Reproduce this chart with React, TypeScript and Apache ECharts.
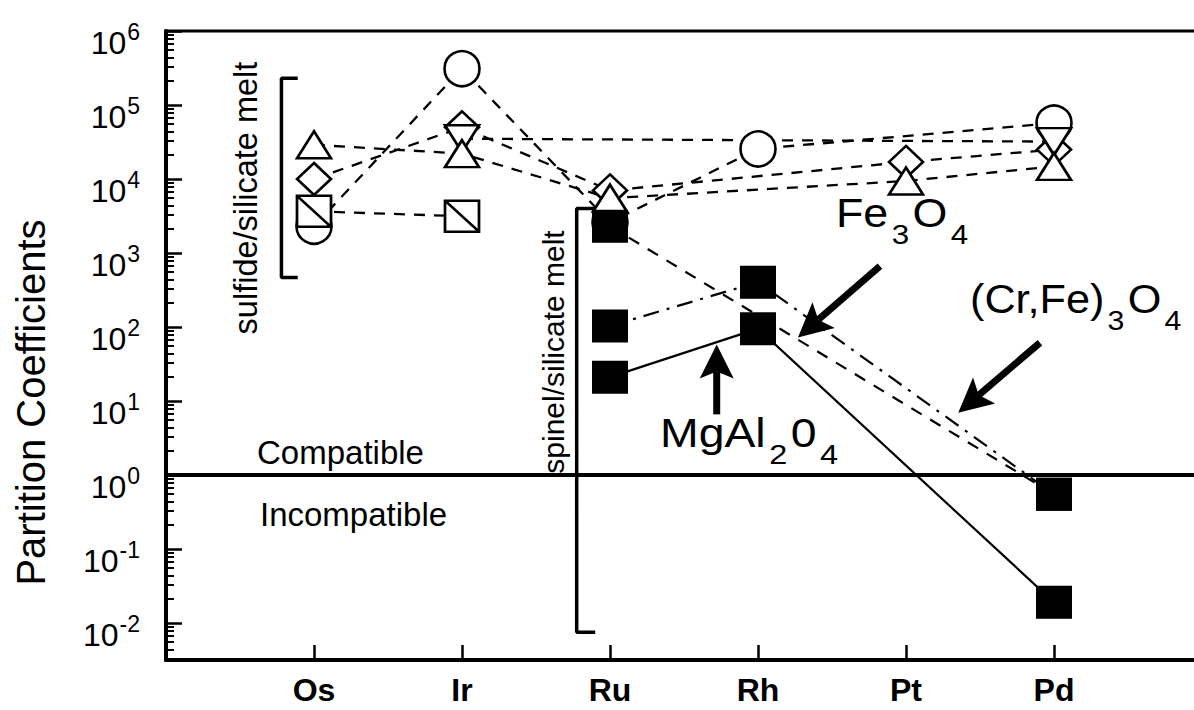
import React, { useEffect, useRef } from "react";
import * as echarts from "echarts";

const FONT = "Liberation Sans";

const elements = ["Os", "Ir", "Ru", "Rh", "Pt", "Pd"];
const yTickExponents = [-2, -1, 0, 1, 2, 3, 4, 5, 6];

// sulfide/silicate melt partition coefficients (open symbols), order Os Ir Ru Rh Pt Pd
const sulfCircle = [2300, 310000, 2600, 25500, null, 57000];
const sulfDiamond = [10000, 50000, 7000, null, 17000, 25000];
const sulfTriDown = [null, 35000, null, null, null, 32000];
const sulfTriUp = [29000, 22000, 5500, null, 9400, 14800];
const sulfSquare = [3660, 3140, null, null, null, null];

// spinel/silicate melt partition coefficients (filled squares)
const spinelFe3O4 = [null, null, 2300, null, null, 0.55];
const spinelCrFe3O4 = [null, null, 103, 404, null, 0.55];
const spinelMgAl2O4 = [null, null, 21, 95, null, 0.019];

// range brackets: [x of bar, x of cap end, top value, bottom value]
const sulfBracket = [0.78, 0.89, 230000, 467];
const spinelBracket = [2.775, 2.9, 4000, 0.0075];

// arrows in data space: [start, tip]
const arrowFe3O4 = [[4.824, 664], [4.27, 72.3]];
const arrowMgAl2O4 = [[3.721, 6.6], [3.721, 58.2]];
const arrowCrFe3O4 = [[5.905, 61.3], [5.353, 6.96]];

const toPoints = (vals: (number | null)[]) =>
  vals
    .map((v, i) => (v == null ? null : [i + 1, v]))
    .filter((p) => p !== null) as number[][];

const bracketPoints = (b: number[]) => [
  [b[1], b[2]],
  [b[0], b[2]],
  [b[0], b[3]],
  [b[1], b[3]],
];

const openStyle = { color: "#fff", borderColor: "#000", borderWidth: 2.6 };
const dashed = { color: "#000", width: 2.3, type: [11, 9] as any };

function sulfSeries(name: string, vals: (number | null)[], symbol: string, size: any, rotate = 0) {
  return {
    name,
    type: "line",
    data: toPoints(vals),
    symbol,
    symbolSize: size,
    symbolRotate: rotate,
    showSymbol: true,
    itemStyle: openStyle,
    lineStyle: dashed,
    z: 3,
  };
}

function spinelSeries(name: string, vals: (number | null)[], lineType: any) {
  return {
    name,
    type: "line",
    data: toPoints(vals),
    symbol: "rect",
    symbolSize: [36, 33],
    showSymbol: true,
    itemStyle: { color: "#000" },
    lineStyle: { color: "#000", width: 2.2, type: lineType },
    z: 4,
  };
}

export default function App() {
  const ref = useRef<HTMLDivElement>(null);
  useEffect(() => {
    if (!ref.current) return;
    const chart = echarts.init(ref.current, undefined, { renderer: "svg" });
    const option: any = {
      animation: false,
      backgroundColor: "#fff",
      grid: {
        left: 166,
        top: 31,
        right: -8,
        height: 629,
        outerBoundsMode: "none",
        containLabel: false,
        show: true,
        borderColor: "#000",
        borderWidth: 3,
        backgroundColor: "transparent",
      },
      xAxis: {
        type: "value",
        min: 0,
        max: 7,
        interval: 1,
        axisLine: { show: true, onZero: false, lineStyle: { color: "#000", width: 4 } },
        axisTick: { show: true, inside: true, length: 15, lineStyle: { color: "#000", width: 2.5 } },
        axisLabel: {
          formatter: (v: number) => elements[Math.round(v) - 1] ?? "",
          fontSize: 32,
          fontWeight: "bold",
          fontFamily: FONT,
          color: "#000",
          margin: 14,
        },
        splitLine: { show: false },
      },
      yAxis: {
        type: "log",
        logBase: 10,
        min: Math.pow(10, -2.5),
        max: 1e6,
        axisLine: { show: true, onZero: false, lineStyle: { color: "#000", width: 4 } },
        axisTick: { show: true, inside: true, length: 16, lineStyle: { color: "#000", width: 2.5 } },
        minorTick: { show: true, splitNumber: 8, length: 8, lineStyle: { color: "#000", width: 2 } },
        splitLine: { show: false },
        axisLabel: {
          margin: 26,
          formatter: (v: number) => {
            const l = Math.log10(v);
            const k = Math.round(l);
            if (Math.abs(l - k) > 1e-6 || !yTickExponents.includes(k)) return "";
            return `{b|10}{s|${k}}`;
          },
          rich: {
            b: { fontSize: 32, fontFamily: FONT, color: "#000", lineHeight: 32, padding: [12, 0, 12, 0], verticalAlign: "top" },
            s: { fontSize: 23, fontFamily: FONT, color: "#000", lineHeight: 23, padding: [5, 0, 0, 1], verticalAlign: "top" },
          },
        },
        name: "Partition Coefficients",
        nameLocation: "middle",
        nameGap: 115,
        nameTextStyle: { fontSize: 40, fontFamily: FONT, color: "#000", padding: [0, 114, 0, 0] },
      },
      series: [
        {
          name: "unity",
          type: "line",
          data: [],
          markLine: {
            silent: true,
            symbol: ["none", "none"],
            label: { show: false },
            lineStyle: { type: "solid", color: "#000", width: 4 },
            data: [{ yAxis: 1 }],
          },
        },
        {
          name: "sulfide bracket",
          type: "line",
          data: bracketPoints(sulfBracket),
          symbol: "none",
          lineStyle: { color: "#000", width: 3.5, type: "solid" },
          z: 2,
        },
        {
          name: "spinel bracket",
          type: "line",
          data: bracketPoints(spinelBracket),
          symbol: "none",
          lineStyle: { color: "#000", width: 3.5, type: "solid" },
          z: 2,
        },
        sulfSeries("circle", sulfCircle, "circle", 35),
        sulfSeries("diamond", sulfDiamond, "diamond", [34, 32]),
        sulfSeries("triangle down", sulfTriDown, "triangle", [34, 27], 180),
        sulfSeries("triangle up", sulfTriUp, "triangle", [34, 27]),
        sulfSeries("square", sulfSquare, "path://M0 0H10V10H0ZM0 0L10 10", [34, 31]),
        spinelSeries("Fe3O4", spinelFe3O4, [12, 10]),
        spinelSeries("(Cr,Fe)3O4", spinelCrFe3O4, [16, 8, 3, 8]),
        spinelSeries("MgAl2O4", spinelMgAl2O4, "solid"),
      ],
    };
    chart.setOption(option);

    const toPx = (p: number[]) => chart.convertToPixel({ xAxisIndex: 0, yAxisIndex: 0 }, p) as number[];
    const arrow = (a: number[][]) => {
      const [sx, sy] = toPx(a[0]);
      const [tx, ty] = toPx(a[1]);
      const dx = tx - sx, dy = ty - sy;
      const L = Math.hypot(dx, dy);
      const ux = dx / L, uy = dy / L;
      const px = -uy, py = ux;
      const head = 34, half = 17, notch = 7;
      const bx = tx - ux * head, by = ty - uy * head;
      const nx = tx - ux * (head - notch), ny = ty - uy * (head - notch);
      return [
        { type: "line", silent: true, shape: { x1: sx, y1: sy, x2: nx, y2: ny }, style: { stroke: "#000", lineWidth: 7 } },
        {
          type: "polygon",
          silent: true,
          shape: { points: [[tx, ty], [bx + px * half, by + py * half], [nx, ny], [bx - px * half, by - py * half]] },
          style: { fill: "#000" },
        },
      ];
    };
    const chemRich = {
      a: { fontSize: 40, fontFamily: FONT, fill: "#000", lineHeight: 42, verticalAlign: "top" },
      s: { fontSize: 28, fontFamily: FONT, fill: "#000", lineHeight: 28, padding: [27, 3, 0, 3], verticalAlign: "top" },
    };
    const txt = (x: number, y: number, text: string, extra: any = {}) => ({
      type: "text",
      x,
      y,
      silent: true,
      ...extra.el,
      style: {
        text,
        fontSize: 33,
        fontFamily: FONT,
        fill: "#000",
        align: "left",
        textAlign: "left",
        verticalAlign: "middle",
        textVerticalAlign: "middle",
        ...extra.style,
      },
    });
    const chem = (x: number, y: number, text: string, sx = 1.12) =>
      txt(x, y, text, {
        el: { scaleX: sx },
        style: { rich: chemRich, verticalAlign: "top", textVerticalAlign: "top" },
      });
    chart.setOption({
      graphic: [
        ...arrow(arrowFe3O4),
        ...arrow(arrowMgAl2O4),
        ...arrow(arrowCrFe3O4),
        txt(257, 452, "Compatible"),
        txt(260, 514, "Incompatible"),
        chem(836, 193, "{a|Fe}{s|3}{a|O}{s|4}"),
        chem(660, 413, "{a|MgAl}{s|2}{a|0}{s|4}", 1.16),
        chem(970, 279, "{a|(Cr,Fe)}{s|3}{a|O}{s|4}", 1.08),
        txt(246, 198, "sulfide/silicate melt", {
          el: { rotation: Math.PI / 2 },
          style: { fontSize: 32.5, align: "center", textAlign: "center" },
        }),
        txt(553, 352, "spinel/silicate melt", {
          el: { rotation: Math.PI / 2 },
          style: { fontSize: 30, align: "center", textAlign: "center" },
        }),
      ],
    });
    return () => chart.dispose();
  }, []);
  return <div ref={ref} style={{ position: "absolute", left: 0, top: 0, width: 1194, height: 710 }} />;
}
